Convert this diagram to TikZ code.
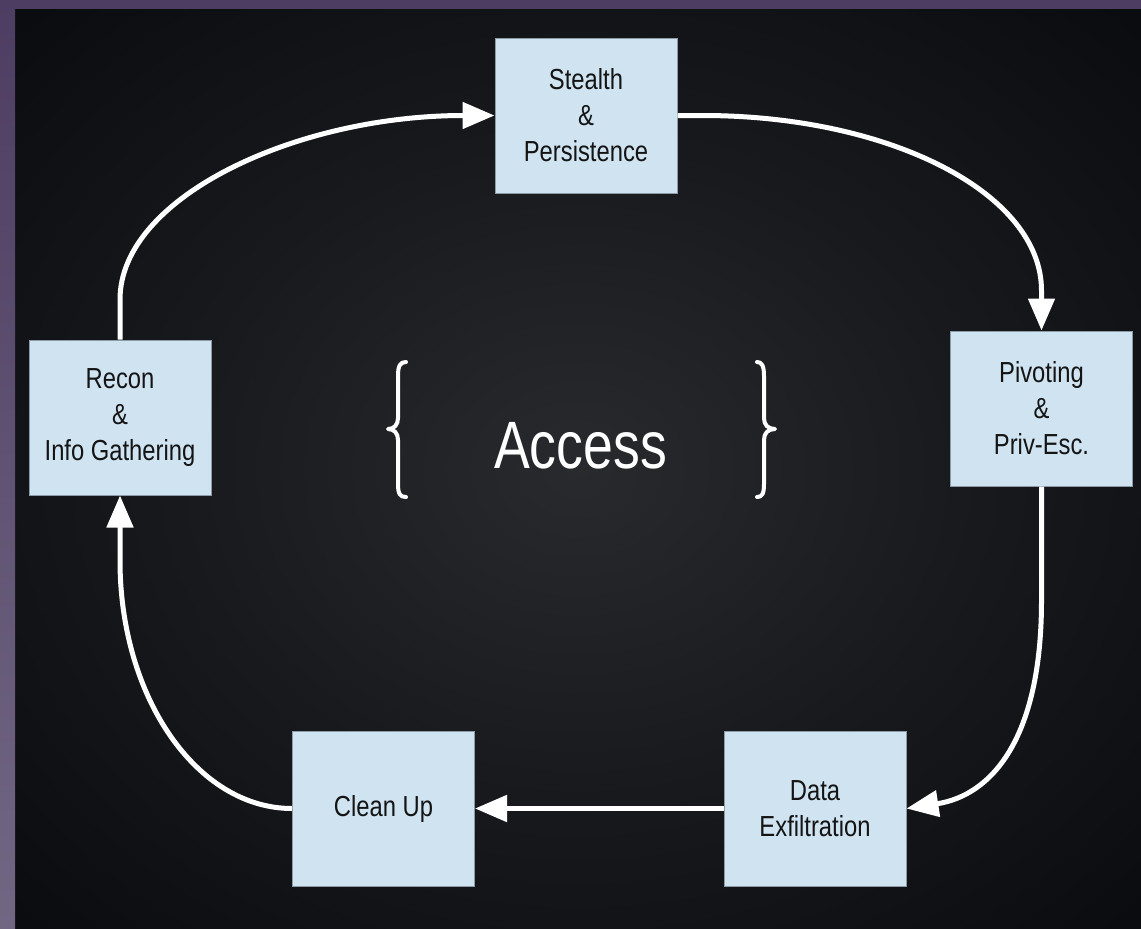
\documentclass[tikz,border=0pt]{standalone}
\usepackage{fontspec}
\setmainfont{Liberation Sans}[FakeStretch=0.82]
\newfontfamily\accessfont{Liberation Sans}[FakeStretch=0.80]
\usetikzlibrary{arrows.meta,calc}
\definecolor{boxfill}{HTML}{CFE3F1}
\definecolor{boxline}{HTML}{8C9BA8}
\definecolor{boxtext}{HTML}{141414}
\definecolor{purpletop}{HTML}{4E3D62}
\definecolor{purplebot}{HTML}{716783}
\definecolor{bgin}{HTML}{282A2D}
\definecolor{bgmid}{HTML}{17191C}
\definecolor{bgedge}{HTML}{0A0B0E}
\definecolor{bgout}{HTML}{040508}
\pgfdeclareradialshading{bgglow}{\pgfpointorigin}{color(0bp)=(bgin); color(18bp)=(bgmid); color(36bp)=(bgedge); color(50bp)=(bgout)}
\tikzset{
  stepbox/.style={rectangle, fill=boxfill, draw=boxline, line width=1pt,
    minimum width=182pt, minimum height=155pt, inner sep=0pt, align=center,
    text=boxtext, font=\fontsize{29}{36}\selectfont},
  flow/.style={draw=white, line width=5pt,
    -{Triangle[length=32pt,width=26pt]}},
  bracestroke/.style={draw=white, line width=4pt, line cap=round, line join=round}
}
\begin{document}
\begin{tikzpicture}[x=1pt,y=-1pt]
\useasboundingbox (0,0) rectangle (1141,929);
% background
\shade[shading=bgglow] (15,9) rectangle (1141,929);
\fill[purpletop] (0,0) rectangle (1141,9);
\shade[top color=purpletop, bottom color=purplebot] (0,0) rectangle (15,929);

% boxes
\node[stepbox] (recon) at (120,417.5) {Recon\\\&\\Info Gathering};
\node[stepbox] (stealth) at (586,115.5) {Stealth\\\&\\Persistence};
\node[stepbox] (pivot) at (1041.5,408.5) {Pivoting\\\&\\Priv-Esc.};
\node[stepbox] (data) at (815,808.5) {Data\\Exfiltration};
\node[stepbox] (clean) at (383.5,808.5) {Clean Up};

% centre
\node[anchor=base, text=white, inner sep=0pt,
  font=\accessfont\fontsize{67}{70}\selectfont] (access) at (580.5,468) {Access};
\draw[bracestroke] (406,362) .. controls (400,362) and (398,366) .. (398,376) -- (398,418)
  .. controls (398,425) and (394,429) .. (388,429)
  .. controls (394,429) and (398,433) .. (398,440) -- (398,484)
  .. controls (398,494) and (400,497) .. (406,497);
\draw[bracestroke] (757,362) .. controls (762,362) and (764,366) .. (764,376) -- (764,418)
  .. controls (764,425) and (768,429) .. (775,429)
  .. controls (768,429) and (764,433) .. (764,440) -- (764,484)
  .. controls (764,494) and (762,497) .. (757,497);

% connectors
\draw[flow] (recon.north) -- ++(0,-40)
  .. controls +(0,-102) and +(-199,0) .. (stealth.west);
\draw[flow] (stealth.east) -- ++(25,0)
  .. controls +(188,0) and +(0,-97) .. ($(pivot.north)+(0,-40)$) -- (pivot.north);
\draw[flow] (pivot.south) -- ++(0,114)
  .. controls +(0,140) and +(84,-13) .. (data.east);
\draw[flow] (data.west) -- (clean.east);
\draw[flow] (clean.west)
  .. controls +(-95,0) and +(0,137) .. ($(recon.south)+(0,65)$) -- (recon.south);
\end{tikzpicture}
\end{document}
